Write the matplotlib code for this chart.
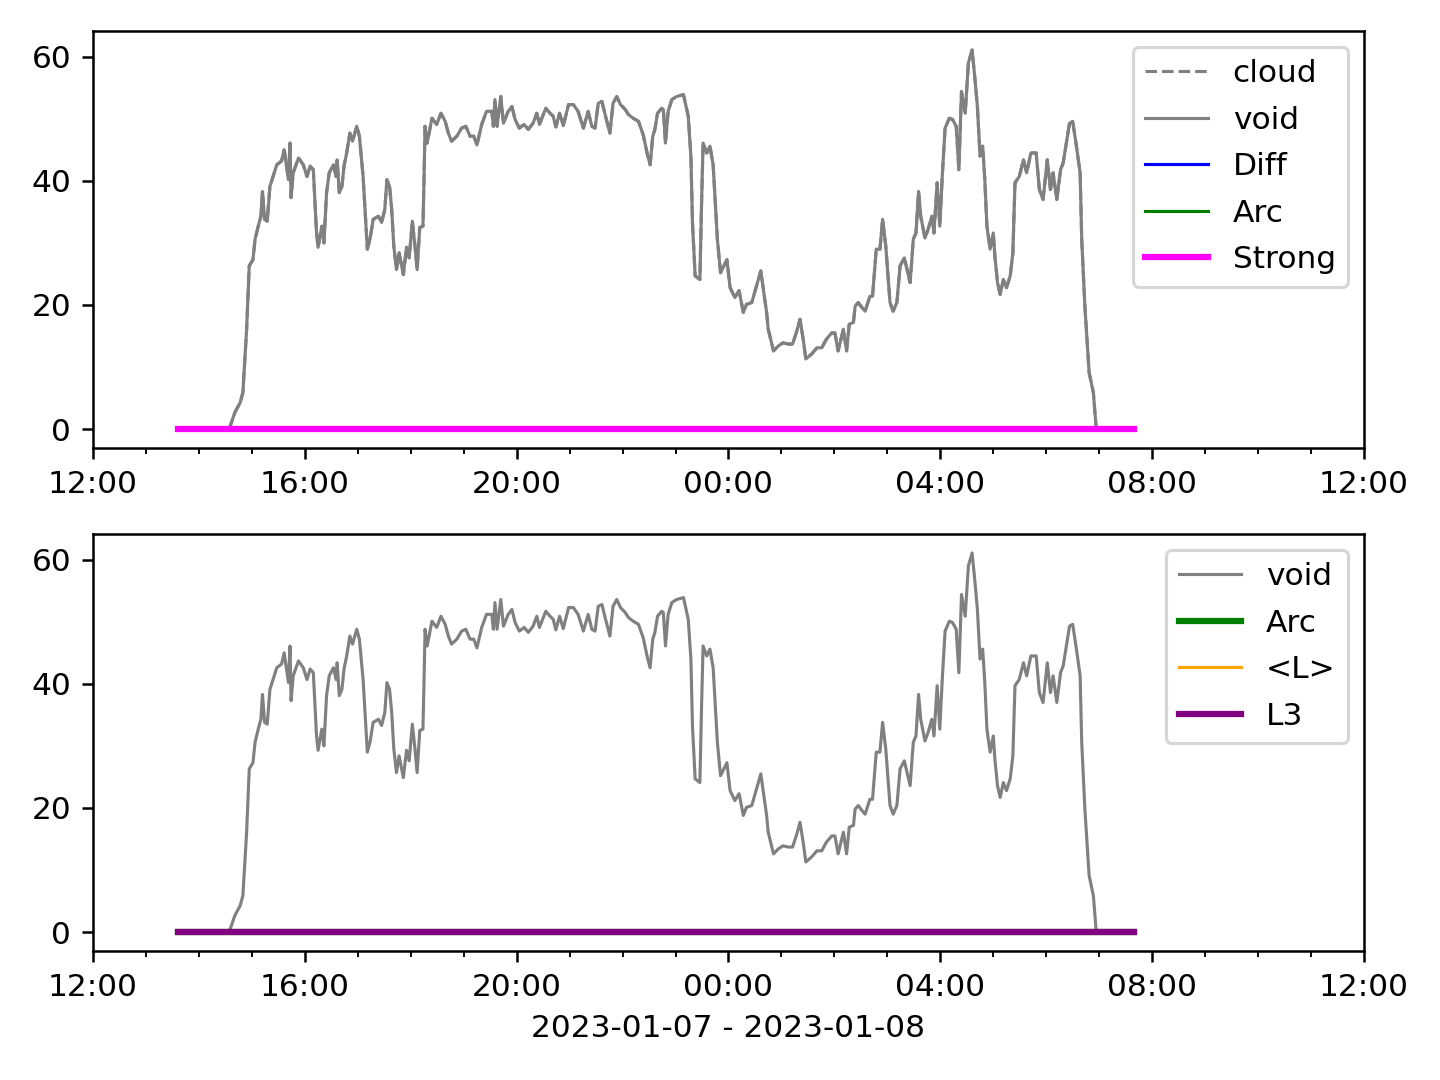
import numpy as np
import pandas as pd
import matplotlib
matplotlib.use('Agg')
import matplotlib.pyplot as plt
import matplotlib.dates as mdates

# hours after 2023-01-07 12:00, and signal
hours = [1.60, 2.57, 2.68, 2.78, 2.83, 2.90, 2.95, 3.02, 3.06, 3.12, 3.17, 3.20, 3.24,
         3.29, 3.34, 3.40, 3.47, 3.56, 3.61, 3.69, 3.72, 3.74, 3.78, 3.88, 3.97, 4.04,
         4.10, 4.16, 4.22, 4.25, 4.32, 4.36, 4.41, 4.46, 4.54, 4.59, 4.61, 4.65, 4.70,
         4.74, 4.79, 4.85, 4.90, 4.98, 5.03, 5.10, 5.18, 5.23, 5.29, 5.39, 5.45, 5.51,
         5.55, 5.60, 5.64, 5.68, 5.73, 5.78, 5.86, 5.92, 5.97, 6.03, 6.08, 6.12, 6.17,
         6.23, 6.25, 6.27, 6.31, 6.40, 6.49, 6.57, 6.65, 6.71, 6.77, 6.87, 6.96, 7.04,
         7.12, 7.19, 7.25, 7.34, 7.43, 7.53, 7.56, 7.59, 7.63, 7.70, 7.75, 7.84, 7.91,
         7.97, 8.05, 8.14, 8.22, 8.31, 8.38, 8.43, 8.55, 8.63, 8.69, 8.74, 8.81, 8.88,
         8.98, 9.07, 9.16, 9.26, 9.35, 9.42, 9.48, 9.54, 9.61, 9.67, 9.76, 9.82, 9.89,
         9.96, 10.05, 10.11, 10.20, 10.30, 10.39, 10.47, 10.52, 10.57, 10.61, 10.66,
         10.74, 10.77, 10.81, 10.86, 10.93, 11.02, 11.15, 11.24, 11.29, 11.32, 11.37,
         11.46, 11.49, 11.52, 11.59, 11.65, 11.71, 11.79, 11.85, 11.97, 12.03, 12.12,
         12.20, 12.28, 12.34, 12.44, 12.53, 12.61, 12.66, 12.72, 12.75, 12.85, 12.94,
         13.03, 13.13, 13.21, 13.29, 13.35, 13.41, 13.46, 13.57, 13.67, 13.76, 13.85,
         13.95, 14.01, 14.07, 14.17, 14.23, 14.28, 14.36, 14.39, 14.45, 14.52, 14.58,
         14.67, 14.72, 14.79, 14.86, 14.91, 14.97, 15.05, 15.11, 15.18, 15.24, 15.32,
         15.43, 15.49, 15.54, 15.59, 15.63, 15.71, 15.77, 15.84, 15.88, 15.94, 15.99,
         16.04, 16.09, 16.17, 16.23, 16.30, 16.35, 16.40, 16.47, 16.53, 16.60, 16.65,
         16.70, 16.75, 16.80, 16.84, 16.88, 16.94, 17.00, 17.03, 17.08, 17.13, 17.19,
         17.25, 17.32, 17.37, 17.41, 17.49, 17.57, 17.63, 17.71, 17.81, 17.87, 17.94,
         18.02, 18.08, 18.13, 18.20, 18.27, 18.32, 18.37, 18.44, 18.50, 18.57, 18.64,
         18.67, 18.73, 18.81, 18.89, 18.94, 18.96, 19.65]
void = [0.0, 0.0, 2.7, 4.3, 5.9, 16.0, 26.3, 27.3, 30.6, 32.7, 34.3, 38.3, 33.8,
        33.5, 39.1, 40.7, 42.6, 43.2, 45.0, 40.2, 46.1, 37.3, 41.3, 43.7, 42.6, 40.7,
        42.4, 41.8, 31.7, 29.3, 32.7, 30.0, 38.1, 41.3, 42.6, 40.7, 43.4, 38.1, 39.1,
        42.4, 44.5, 47.7, 46.4, 48.8, 47.2, 40.7, 29.0, 30.6, 33.8, 34.3, 33.3, 35.4,
        40.2, 39.1, 35.4, 29.5, 25.7, 28.4, 24.9, 29.3, 27.6, 33.5, 29.5, 25.7, 32.5,
        32.7, 40.2, 48.8, 46.1, 50.1, 49.1, 50.9, 49.6, 47.7, 46.4, 47.2, 48.5, 48.8,
        47.2, 47.2, 45.8, 49.1, 51.2, 51.2, 48.8, 53.1, 48.8, 53.6, 49.3, 51.2, 52.0,
        49.9, 48.5, 49.1, 48.3, 49.3, 50.9, 49.1, 51.7, 50.9, 50.4, 48.7, 50.9, 48.9,
        52.3, 52.3, 51.2, 48.5, 51.2, 48.8, 48.5, 52.5, 52.8, 50.7, 47.7, 52.5, 53.6,
        52.3, 51.5, 50.7, 50.1, 49.6, 47.4, 44.2, 42.6, 47.2, 48.3, 50.9,
        51.7, 51.5, 46.1, 51.2, 53.1, 53.6, 53.9, 50.4, 44.0, 33.2, 24.7,
        24.1, 35.9, 46.1, 44.5, 45.6, 42.6, 30.6, 25.2, 27.3, 22.8, 21.2,
        22.3, 18.8, 20.1, 20.4, 23.1, 25.5, 22.5, 18.8, 16.1, 12.6, 13.4,
        13.9, 13.7, 13.7, 15.8, 17.7, 14.5, 11.3, 12.1, 13.1, 13.1, 14.5,
        15.5, 15.5, 12.6, 16.1, 12.6, 16.9, 17.2, 19.8, 20.4, 19.6, 19.0,
        21.4, 21.4, 29.0, 29.0, 33.8, 29.5, 20.4, 19.0, 20.4, 26.3, 27.6,
        23.6, 30.6, 31.6, 38.3, 34.3, 30.8, 32.2, 34.3, 31.6, 39.7, 32.7,
        41.3, 48.5, 50.1, 49.9, 48.8, 41.8, 54.4, 50.9, 59.0, 61.1, 56.8,
        52.0, 44.0, 45.6, 40.2, 32.7, 29.0, 31.6, 27.9, 23.6, 21.7, 24.1,
        22.8, 24.7, 28.4, 39.7, 40.7, 43.4, 41.3, 44.5, 44.5, 38.6, 37.0,
        43.4, 38.6, 41.3, 37.0, 41.8, 42.9, 45.6, 49.3, 49.6, 45.6, 41.3,
        30.6, 19.8, 9.1, 5.9, 0.5, 0.0, 0.0]
cloud = void
zeros = [0.0] * len(hours)

start = pd.Timestamp('2023-01-07 12:00')
t = start + pd.to_timedelta(hours, unit='h')

fig, (ax1, ax2) = plt.subplots(2, 1, figsize=(6.4, 4.8), dpi=225)

ax1.plot(t, cloud, color='gray', ls='--', lw=1, label='cloud')
ax1.plot(t, void, color='gray', lw=1, label='void')
ax1.plot(t, zeros, color='blue', lw=1, label='Diff')
ax1.plot(t, zeros, color='green', lw=1, label='Arc')
ax1.plot(t, zeros, color='magenta', lw=2, label='Strong')
ax1.legend(loc='upper right', labelspacing=0.56)

ax2.plot(t, void, color='gray', lw=1, label='void')
ax2.plot(t, zeros, color='green', lw=2, label='Arc')
ax2.plot(t, zeros, color='orange', lw=1, label='<L>')
ax2.plot(t, zeros, color='purple', lw=2, label='L3')
ax2.legend(loc='upper right', labelspacing=0.56)

for ax in (ax1, ax2):
    ax.set_xlim(start, start + pd.Timedelta(hours=24))
    ax.xaxis.set_major_locator(mdates.HourLocator(byhour=[0, 4, 8, 12, 16, 20]))
    ax.xaxis.set_minor_locator(mdates.HourLocator())
    ax.xaxis.set_major_formatter(mdates.DateFormatter('%H:%M'))

ax2.set_xlabel('2023-01-07 - 2023-01-08')
fig.subplots_adjust(left=0.0646, right=0.9472, top=0.9713, bottom=0.1194, hspace=0.206)
fig.savefig('out.png')
